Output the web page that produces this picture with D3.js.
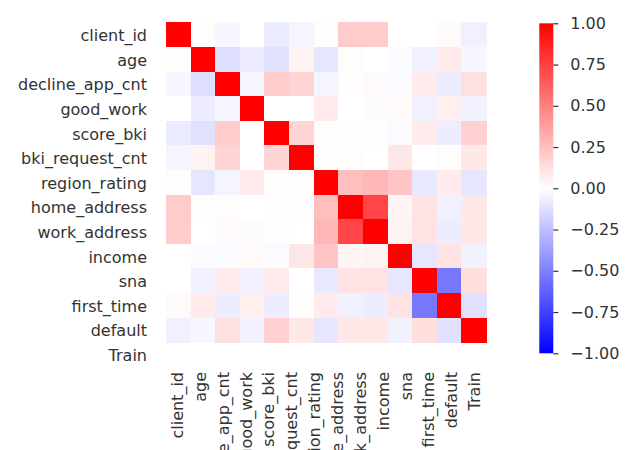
<!DOCTYPE html>
<html>
<head>
<meta charset="utf-8">
<script src="https://cdn.jsdelivr.net/npm/d3@7"></script>
<style>
  html, body { margin: 0; padding: 0; background: #fff; }
  svg { display: block; }
  text { font-family: "DejaVu Sans", sans-serif; font-size: 16px; fill: #333; }
</style>
</head>
<body>
<svg id="chart" width="627" height="450"></svg>
<script>
// Tick labels along both axes
const tickLabels = ["client_id", "age", "decline_app_cnt", "good_work", "score_bki",
  "bki_request_cnt", "region_rating", "home_address", "work_address", "income",
  "sna", "first_time", "default", "Train"];

// Variables that carry a correlation row/column
const variables = tickLabels.slice(0, 13);

// Pairwise correlation matrix (rows follow `variables`)
const corrRows = [
  [ 1.00,  0.01, -0.03,  0.00, -0.08, -0.04,  0.01,  0.20,  0.20,  0.00,  0.00,  0.02, -0.06],
  [ 0.01,  1.00, -0.13, -0.07, -0.12,  0.05, -0.10,  0.01,  0.00, -0.02, -0.06,  0.08, -0.03],
  [-0.03, -0.13,  1.00, -0.03,  0.20,  0.17, -0.04,  0.01,  0.02, -0.02,  0.08, -0.07,  0.12],
  [ 0.00, -0.07, -0.03,  1.00,  0.00,  0.00,  0.08,  0.00, -0.01,  0.02, -0.06,  0.06, -0.05],
  [-0.08, -0.12,  0.20,  0.00,  1.00,  0.17,  0.01,  0.01,  0.01, -0.02,  0.08, -0.07,  0.18],
  [-0.04,  0.05,  0.17,  0.00,  0.17,  1.00,  0.01,  0.01,  0.00,  0.10,  0.00,  0.01,  0.09],
  [ 0.01, -0.10, -0.04,  0.08,  0.01,  0.01,  1.00,  0.25,  0.28,  0.23, -0.09,  0.08, -0.10],
  [ 0.20,  0.01,  0.01,  0.00,  0.01,  0.01,  0.25,  1.00,  0.73,  0.04,  0.11, -0.06,  0.09],
  [ 0.20,  0.00,  0.02, -0.01,  0.01,  0.00,  0.28,  0.73,  1.00,  0.05,  0.11, -0.07,  0.09],
  [ 0.00, -0.02, -0.02,  0.02, -0.02,  0.10,  0.23,  0.04,  0.05,  1.00, -0.10,  0.11, -0.05],
  [ 0.00, -0.06,  0.08, -0.06,  0.08,  0.00, -0.09,  0.11,  0.11, -0.10,  1.00, -0.53,  0.13],
  [ 0.02,  0.08, -0.07,  0.06, -0.07,  0.01,  0.08, -0.06, -0.07,  0.11, -0.53,  1.00, -0.12],
  [-0.06, -0.03,  0.12, -0.05,  0.18,  0.09, -0.10,  0.09,  0.09, -0.05,  0.13, -0.12,  1.00]
];

// Colour bar ticks
const colorTicks = [1.00, 0.75, 0.50, 0.25, 0.00, -0.25, -0.50, -0.75, -1.00];

const svg = d3.select("#chart");

// Heatmap geometry
const hm = { left: 166, top: 22.3, width: 320, height: 320 };

const x = d3.scaleBand().domain(variables).range([hm.left, hm.left + hm.width]);
const y = d3.scaleBand().domain(variables).range([hm.top, hm.top + hm.height]);

// Tick label positions: columns spread over the heatmap width, rows follow row height
const xLab = d3.scaleBand().domain(tickLabels).range([hm.left, hm.left + hm.width]);
const yLab = d3.scaleBand().domain(tickLabels)
  .range([hm.top, hm.top + y.bandwidth() * tickLabels.length]);

// Diverging blue-white-red colormap
const color = d3.scaleLinear().domain([-1, 0, 1]).range(["#0000ff", "#ffffff", "#ff0000"]);

const cells = [];
corrRows.forEach((row, i) => row.forEach((v, j) => {
  cells.push({ r: variables[i], c: variables[j], v });
}));

svg.append("g").selectAll("rect").data(cells).join("rect")
  .attr("x", d => x(d.c))
  .attr("y", d => y(d.r))
  .attr("width", x.bandwidth() + 0.5)
  .attr("height", y.bandwidth() + 0.5)
  .attr("fill", d => color(d.v))
  .attr("shape-rendering", "crispEdges");

// Row labels
svg.append("g").selectAll("text").data(tickLabels).join("text")
  .attr("x", 147)
  .attr("y", d => yLab(d) + yLab.bandwidth() / 2 + 1)
  .attr("text-anchor", "end")
  .attr("dominant-baseline", "central")
  .text(d => d);

// Column labels, rotated
svg.append("g").selectAll("text").data(tickLabels).join("text")
  .attr("transform", d => `translate(${xLab(d) + xLab.bandwidth() / 2},372) rotate(-90)`)
  .attr("text-anchor", "end")
  .attr("dominant-baseline", "central")
  .text(d => d);

// Colour bar
const cb = { left: 539.3, top: 23.3, width: 14, height: 330 };
const cbScale = d3.scaleLinear().domain([-1, 1]).range([cb.top + cb.height, cb.top]);

const defs = svg.append("defs");
const grad = defs.append("linearGradient")
  .attr("id", "cbGrad").attr("x1", 0).attr("y1", 1).attr("x2", 0).attr("y2", 0);
d3.range(-1, 1.0001, 0.25).forEach(v => {
  grad.append("stop").attr("offset", (v + 1) / 2).attr("stop-color", color(v));
});

svg.append("rect")
  .attr("x", cb.left).attr("y", cb.top)
  .attr("width", cb.width).attr("height", cb.height)
  .attr("fill", "url(#cbGrad)");

const cbAxis = d3.axisRight(cbScale)
  .tickValues(colorTicks)
  .tickSize(5)
  .tickPadding(12)
  .tickFormat(v => d3.format(".2f")(v).replace("-", "\u2212"));

const cbG = svg.append("g")
  .attr("transform", `translate(${cb.left + cb.width},0)`)
  .call(cbAxis);
cbG.select(".domain").remove();
cbG.selectAll(".tick line").attr("stroke", "#333").attr("stroke-width", 1.2);
cbG.selectAll(".tick text")
  .attr("font-family", "DejaVu Sans, sans-serif")
  .attr("font-size", 16)
  .attr("fill", "#333");
</script>
</body>
</html>
